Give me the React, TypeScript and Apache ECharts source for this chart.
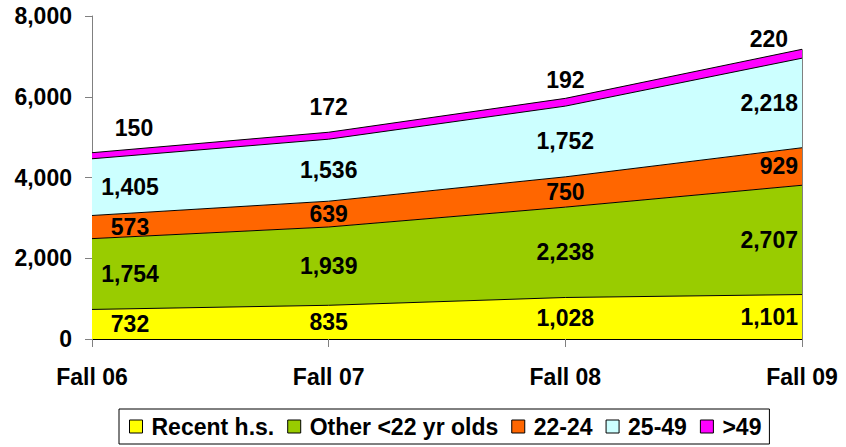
import React, { useEffect, useRef } from "react";
import * as echarts from "echarts";

const categories = ["Fall 06", "Fall 07", "Fall 08", "Fall 09"];
const recentHS = [732, 835, 1028, 1101];
const otherUnder22 = [1754, 1939, 2238, 2707];
const age22to24 = [573, 639, 750, 929];
const age25to49 = [1405, 1536, 1752, 2218];
const over49 = [150, 172, 192, 220];
const seriesNames = ["Recent h.s.", "Other <22 yr olds", "22-24", "25-49", ">49"];
const seriesValues = [recentHS, otherUnder22, age22to24, age25to49, over49];
const colors = ["#FFFF00", "#99CC00", "#FF6600", "#CCFFFF", "#FF00FF"];
const yTicks = { min: 0, max: 8000, interval: 2000 };

const FONT = "'Liberation Sans', Arial, sans-serif";
const fmt = (v: number) => v.toLocaleString("en-US");

// label pixel tweaks (style only)
const topLabelOffsetY = [-25, -25, -18, -10];

export default function App() {
  const ref = useRef<HTMLDivElement>(null);
  useEffect(() => {
    if (!ref.current) return;
    const chart = echarts.init(ref.current, null, { renderer: "svg" });

    const areaSeries = seriesNames.map((name, i) => ({
      name,
      type: "line",
      stack: "total",
      data: seriesValues[i],
      showSymbol: false,
      symbol: "none",
      lineStyle: { color: "#000", width: 1 },
      itemStyle: { color: colors[i] },
      areaStyle: { color: colors[i], opacity: 1 },
      z: 2,
      ...(i === seriesNames.length - 1
        ? {
            markLine: {
              silent: true,
              symbol: "none",
              label: { show: false },
              lineStyle: { color: "#808080", width: 1, type: "solid" },
              data: [
                [
                  { coord: [3, 0] },
                  {
                    coord: [3, seriesValues.reduce((s, arr) => s + arr[3], 0)],
                  },
                ],
              ],
            },
          }
        : {}),
    }));

    const labelSeries = seriesNames.map((name, i) => {
      const data = categories.map((_, j) => {
        let base = 0;
        for (let k = 0; k < i; k++) base += seriesValues[k][j];
        const v = seriesValues[i][j];
        const isTop = i === seriesNames.length - 1;
        const y = isTop ? base + v : base + v / 2;
        const dy = isTop ? topLabelOffsetY[j] : 0;
        let label: any = { offset: [0, dy] };
        if (j === 0) label = { offset: [isTop ? 42 : 38, dy] };
        if (j === categories.length - 1)
          label = { align: "right", offset: [isTop ? -14 : -4, dy] };
        return { value: [j, y], raw: v, label };
      });
      return {
        name: "lbl-" + name,
        type: "scatter",
        data,
        symbolSize: 0,
        itemStyle: { color: "#000", opacity: 1 },
        silent: true,
        z: 5,
        label: {
          show: true,
          position: "inside",
          formatter: (p: any) => fmt(p.data.raw),
          fontSize: 23,
          fontWeight: "bold",
          fontFamily: FONT,
          color: "#000",
          opacity: 1,
          textBorderWidth: 0,
        },
      };
    });

    chart.setOption({
      animation: false,
      backgroundColor: "#fff",
      grid: { left: 92, right: 44, top: 16, bottom: 108, containLabel: false },
      xAxis: {
        type: "category",
        data: categories,
        boundaryGap: false,
        axisLine: { lineStyle: { color: "#000", width: 1 } },
        axisTick: {
          show: true,
          alignWithLabel: true,
          length: 8,
          lineStyle: { color: "#808080" },
        },
        axisLabel: {
          margin: 26,
          fontSize: 23,
          fontWeight: "bold",
          fontFamily: FONT,
          color: "#000",
        },
        splitLine: { show: false },
      },
      yAxis: {
        type: "value",
        min: yTicks.min,
        max: yTicks.max,
        interval: yTicks.interval,
        axisLine: { show: true, lineStyle: { color: "#808080", width: 1 } },
        axisTick: { show: true, length: 7, lineStyle: { color: "#808080" } },
        axisLabel: {
          margin: 20,
          fontSize: 23,
          fontWeight: "bold",
          fontFamily: FONT,
          color: "#000",
          formatter: (v: number) => fmt(v),
        },
        splitLine: { show: false },
      },
      legend: {
        data: seriesNames,
        left: 119,
        top: 409,
        icon: "rect",
        itemWidth: 13,
        itemHeight: 13,
        itemGap: 13,
        padding: [6, 8, 6, 10],
        borderColor: "#000",
        borderWidth: 1,
        itemStyle: { borderColor: "#000", borderWidth: 1 },
        textStyle: {
          fontSize: 23,
          fontWeight: "bold",
          fontFamily: FONT,
          color: "#000",
          padding: [0, 0, 0, 4],
        },
      },
      series: [...areaSeries, ...labelSeries],
    });
    return () => chart.dispose();
  }, []);
  return (
    <div
      ref={ref}
      style={{ position: "absolute", left: 0, top: 0, width: 846, height: 447 }}
    />
  );
}
